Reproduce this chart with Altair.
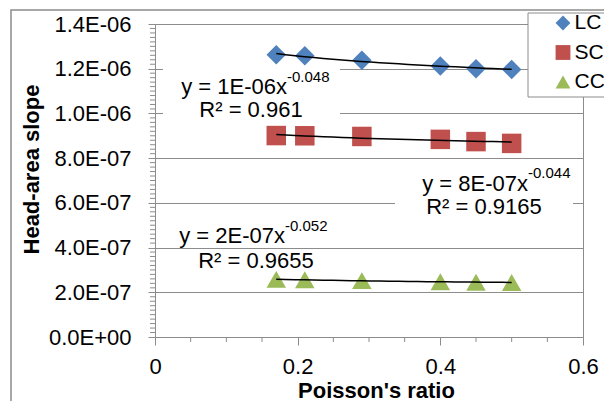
import altair as alt
import pandas as pd

# ---- data ----
poisson_ratio = [0.17, 0.21, 0.29, 0.40, 0.45, 0.50]
lc_slope = [1.262e-6, 1.258e-6, 1.238e-6, 1.212e-6, 1.200e-6, 1.197e-6]
sc_slope = [0.901e-6, 0.900e-6, 0.897e-6, 0.884e-6, 0.874e-6, 0.866e-6]
cc_slope = [0.258e-6, 0.256e-6, 0.252e-6, 0.247e-6, 0.245e-6, 0.244e-6]
series_names = ["LC", "SC", "CC"]
series_colors = ["#4F81BD", "#C0504D", "#9BBB59"]
series_shapes = ["diamond", "square", "triangle-up"]
eq_main = ["y = 1E-06x", "y = 8E-07x", "y = 2E-07x"]
eq_exp = ["-0.048", "-0.044", "-0.052"]
eq_r2 = ["R² = 0.961", "R² = 0.9165", "R² = 0.9655"]
y_major_ticks = [0, 2e-7, 4e-7, 6e-7, 8e-7, 1.0e-6, 1.2e-6, 1.4e-6]
y_minor_ticks = [i * 2e-8 for i in range(71) if i % 10]
x_major_ticks = [0, 0.2, 0.4, 0.6]
x_minor_ticks = [0.05, 0.1, 0.15, 0.25, 0.3, 0.35, 0.45, 0.5, 0.55]

FONT = "Liberation Sans"
GRAY = "#8c8c8c"
L, T, W, H = 155, 24, 428, 313

df = pd.DataFrame({
    "x": poisson_ratio * 3,
    "y": lc_slope + sc_slope + cc_slope,
    "series": [s for s in series_names for _ in range(6)],
})

y_axis = alt.Axis(
    values=y_major_ticks,
    labelExpr=(
        "datum.value == 0 ? '0.0E+00' : "
        "(datum.value * 1000000 > 0.999 ? format(datum.value * 1000000, '.1f') + 'E-06' : "
        "format(datum.value * 10000000, '.1f') + 'E-07')"
    ),
    labelOverlap=False,
    tickSize=7,
    grid=True,
    labelPadding=17,
    title="Head-area slope",
    titleAngle=270,
    titleX=-117,
    titleY=145,
    titleAlign="center",
    titleBaseline="alphabetic",
)
x_axis = alt.Axis(
    values=x_major_ticks,
    labelExpr="'' + round(datum.value * 10) / 10",
    labelOverlap=False,
    tickSize=8,
    grid=False,
    labelPadding=11,
    labelFlush=False,
    title="Poisson's ratio",
    titleX=221,
    titleY=60,
    titleAlign="center",
    titleBaseline="alphabetic",
)

x_scale = alt.Scale(domain=[0, 0.6], nice=False, zero=False)
y_scale = alt.Scale(domain=[0, 1.4e-6], nice=False)

legend = alt.Legend(
    title=None, orient="none", legendX=397.5, legendY=-11.5,
    labelFontSize=21, labelFont=FONT, labelColor="black",
    symbolSize=220, rowPadding=7.5, padding=0, labelOffset=1,
    symbolStrokeWidth=0, zindex=1,
)

points = alt.Chart(df).mark_point(filled=True, size=380, opacity=1, strokeWidth=0).encode(
    x=alt.X("x:Q", scale=x_scale, axis=x_axis),
    y=alt.Y("y:Q", scale=y_scale, axis=y_axis),
    color=alt.Color("series:N", scale=alt.Scale(domain=series_names, range=series_colors), legend=legend),
    shape=alt.Shape("series:N", scale=alt.Scale(domain=series_names, range=series_shapes), legend=legend),
)

trend = alt.Chart(df).transform_regression(
    "x", "y", method="pow", groupby=["series"]
).mark_line(color="black", strokeWidth=1.5).encode(
    x=alt.X("x:Q", scale=x_scale),
    y=alt.Y("y:Q", scale=y_scale),
    detail="series:N",
)

y_minor = alt.Chart(pd.DataFrame({"y": y_minor_ticks})).mark_rule(color=GRAY, strokeWidth=1).encode(
    y=alt.Y("y:Q", scale=y_scale), x=alt.value(-5), x2=alt.value(0)
)
x_minor = alt.Chart(pd.DataFrame({"x": x_minor_ticks})).mark_rule(color=GRAY, strokeWidth=1).encode(
    x=alt.X("x:Q", scale=x_scale), y=alt.value(H), y2=alt.value(H + 5)
)

one = alt.Data(values=[{}])


def rect(x0, y0, x1, y1, **kw):
    return alt.Chart(one).mark_rect(**kw).encode(
        x=alt.value(x0 - L), x2=alt.value(x1 - L), y=alt.value(y0 - T), y2=alt.value(y1 - T)
    )


def label(text, x, y, size, align):
    return alt.Chart(one).mark_text(
        text=text, fontSize=size, align=align, baseline="alphabetic", color="black", font=FONT
    ).encode(x=alt.value(x - L), y=alt.value(y - T))


outer = rect(11, 10, 640, 440, fillOpacity=0, stroke=GRAY, strokeWidth=1.5)
legend_box = rect(528, 13, 640, 97, fill="white", stroke=GRAY, strokeWidth=1)
lc_bg = rect(163, 66, 340, 122, fill="white")
sc_bg = rect(395, 165, 573, 220, fill="white")

texts = [
    label(eq_main[0], 287, 94, 22, "right"),
    label(eq_exp[0], 287, 82, 15, "left"),
    label(eq_r2[0], 251, 117, 22, "center"),
    label(eq_main[1], 528, 191, 22, "right"),
    label(eq_exp[1], 528, 178, 15, "left"),
    label(eq_r2[1], 484, 214, 22, "center"),
    label(eq_main[2], 285, 243, 22, "right"),
    label(eq_exp[2], 285, 231, 15, "left"),
    label(eq_r2[2], 256, 268, 22, "center"),
]

chart = alt.layer(
    outer, y_minor, x_minor, lc_bg, sc_bg, legend_box, points, trend, *texts
).properties(
    width=W, height=H,
    padding={"left": L, "top": T, "right": 604 - L - W, "bottom": 401 - T - H},
    autosize=alt.AutoSizeParams(type="none"),
).configure(font=FONT).configure_view(
    stroke=GRAY, strokeWidth=1
).configure_axis(
    labelFont=FONT, labelFontSize=22, labelColor="black",
    titleFont=FONT, titleFontSize=22, titleFontWeight="bold", titleColor="black",
    domainColor=GRAY, tickColor=GRAY, gridColor=GRAY, domainWidth=1, tickWidth=1, gridWidth=1,
)

chart.save("out.html", embed_options={"renderer": "svg", "actions": False})
